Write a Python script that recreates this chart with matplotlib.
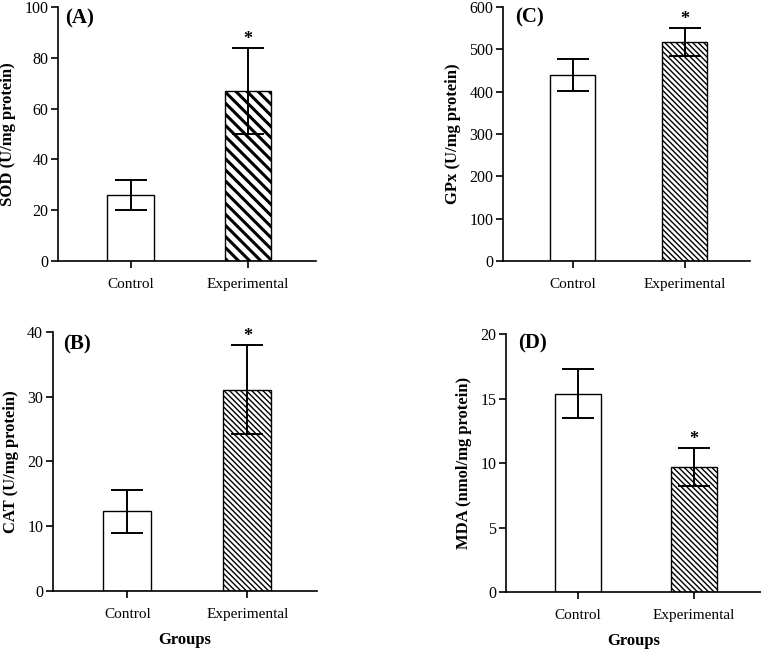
import matplotlib
matplotlib.use('Agg')
import matplotlib.pyplot as plt

plt.rcParams['font.family'] = ['Liberation Serif', 'DejaVu Serif']

groups = ['Control', 'Experimental']

# panel data: mean and SEM
sod_mean = [26.0, 67.0]
sod_err = [6.0, 17.0]
cat_mean = [12.3, 31.1]
cat_err = [3.3, 6.8]
gpx_mean = [440.0, 518.0]
gpx_err = [37.0, 33.0]
mda_mean = [15.4, 9.7]
mda_err = [1.9, 1.45]

sod_ticks = [0, 20, 40, 60, 80, 100]
cat_ticks = [0, 10, 20, 30, 40]
gpx_ticks = [0, 100, 200, 300, 400, 500, 600]
mda_ticks = [0, 5, 10, 15, 20]

coarse = '\\' * 3
fine = '\\' * 6

panels = [
    # rect, letter, ylabel, mean, err, ticks, hatch, hatch lw, letter pos, xlabel
    ([0.0762, 0.599, 0.339, 0.390], '(A)', 'SOD (U/mg protein)', sod_mean, sod_err, sod_ticks, coarse, 2.2, (0.027, 0.955), None),
    ([0.661, 0.599, 0.3246, 0.390], '(C)', 'GPx (U/mg protein)', gpx_mean, gpx_err, gpx_ticks, fine, 1.0, (0.049, 0.96), None),
    ([0.0696, 0.0922, 0.347, 0.398], '(B)', 'CAT (U/mg protein)', cat_mean, cat_err, cat_ticks, fine, 1.0, (0.038, 0.95), 'Groups'),
    ([0.665, 0.0906, 0.335, 0.396], '(D)', 'MDA (nmol/mg protein)', mda_mean, mda_err, mda_ticks, fine, 1.0, (0.047, 0.965), 'Groups'),
]

fig = plt.figure(figsize=(7.61, 6.51), dpi=100)

for rect, letter, ylabel, mean, err, ticks, hatch, hlw, lpos, xlabel in panels:
    ax = fig.add_axes(rect)
    x = [0, 1]
    plt.rcParams['hatch.linewidth'] = hlw
    bars = ax.bar(x, mean, width=0.4, color='white', edgecolor='black', linewidth=1.0)
    bars[1].set_hatch(hatch)
    if hasattr(bars[1], 'set_hatch_linewidth'):
        bars[1].set_hatch_linewidth(hlw)
    ax.errorbar(x, mean, yerr=err, fmt='none', ecolor='black', elinewidth=1.4,
                capsize=11.5, capthick=1.4)
    top = mean[1] + err[1]
    ax.annotate('*', xy=(1, top), xytext=(0, 0), textcoords='offset points',
                ha='center', va='bottom', fontsize=13, fontweight='bold')

    ax.set_xlim(-0.62, 1.58)
    ax.set_ylim(ticks[0], ticks[-1])
    ax.set_yticks(ticks)
    ax.set_xticks(x)
    ax.set_xticklabels(groups)
    ax.spines['top'].set_visible(False)
    ax.spines['right'].set_visible(False)
    for s in ['left', 'bottom']:
        ax.spines[s].set_linewidth(1.2)
    ax.tick_params(axis='y', direction='out', length=5, width=1.2, pad=2, labelsize=11.5)
    ax.tick_params(axis='x', direction='out', length=5, width=1.2, pad=7, labelsize=11)
    ax.set_ylabel(ylabel, fontsize=12, fontweight='bold', labelpad=6)
    if xlabel:
        ax.set_xlabel(xlabel, fontsize=12, fontweight='bold', labelpad=8)
    ax.text(lpos[0], lpos[1], letter, transform=ax.transAxes, ha='left', va='center',
            fontsize=15, fontweight='bold')

fig.savefig('out.png', dpi=100)
